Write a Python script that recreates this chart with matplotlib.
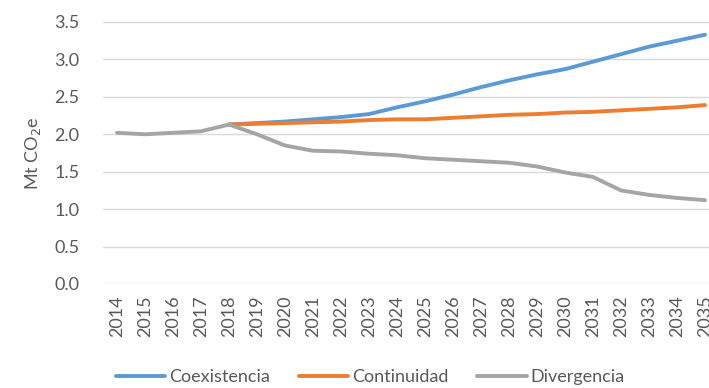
import numpy as np
import matplotlib
matplotlib.use("Agg")
import matplotlib.pyplot as plt

plt.rcParams['font.family'] = ['Lato', 'DejaVu Sans']

years = [str(y) for y in range(2014, 2036)]
nan = np.nan
coexistencia = [nan, nan, nan, nan, 2.13, 2.15, 2.17, 2.20, 2.23, 2.27, 2.36, 2.44,
                2.53, 2.63, 2.72, 2.80, 2.87, 2.97, 3.07, 3.17, 3.25, 3.33]
continuidad = [nan, nan, nan, nan, 2.13, 2.14, 2.15, 2.16, 2.17, 2.19, 2.20, 2.20,
               2.22, 2.24, 2.26, 2.27, 2.29, 2.30, 2.32, 2.34, 2.36, 2.39]
divergencia = [2.02, 2.00, 2.02, 2.04, 2.13, 2.00, 1.85, 1.78, 1.77, 1.74, 1.72, 1.68,
               1.66, 1.64, 1.62, 1.57, 1.49, 1.43, 1.25, 1.19, 1.15, 1.12]

W, H = 709, 388
fig = plt.figure(figsize=(W / 100, H / 100), dpi=100)
# right edge runs past the canvas, as in the source layout
ax = fig.add_axes([103 / W, 1 - 284 / H, 616 / W, 262 / H])

x = np.arange(len(years))
lw = 2.8
l1, = ax.plot(x, coexistencia, color='#5B9BD5', lw=lw, solid_capstyle='round')
l2, = ax.plot(x, continuidad, color='#ED7D31', lw=lw, solid_capstyle='round')
l3, = ax.plot(x, divergencia, color='#A5A5A5', lw=lw, solid_capstyle='round')

fs = 13
ax.set_xlim(-0.5, len(years) - 0.5)
ax.set_ylim(0, 3.5)
ax.set_yticks(np.arange(0, 3.51, 0.5))
ax.set_yticklabels([f"{v:.1f}" for v in np.arange(0, 3.51, 0.5)])
ax.set_xticks(x)
ax.set_xticklabels(years, rotation=90)
ax.grid(axis='y', color='#d9d9d9', lw=1.0)
ax.set_axisbelow(True)
for s in ax.spines.values():
    s.set_visible(False)
ax.tick_params(length=0, labelsize=fs, colors='#595959', pad=8)
ax.tick_params(axis='y', pad=17)
ax.set_ylabel("Mt CO$_2$e", color='#595959', fontsize=fs, labelpad=8)

fig.legend([l1, l2, l3], ["Coexistencia", "Continuidad", "Divergencia"],
           loc='center', bbox_to_anchor=(370 / W, 1 - 377 / H), ncol=3,
           frameon=False, fontsize=fs, handlelength=2.75, handletextpad=0.2,
           columnspacing=1.6, labelcolor='#595959')

fig.savefig("out.png", dpi=100)
